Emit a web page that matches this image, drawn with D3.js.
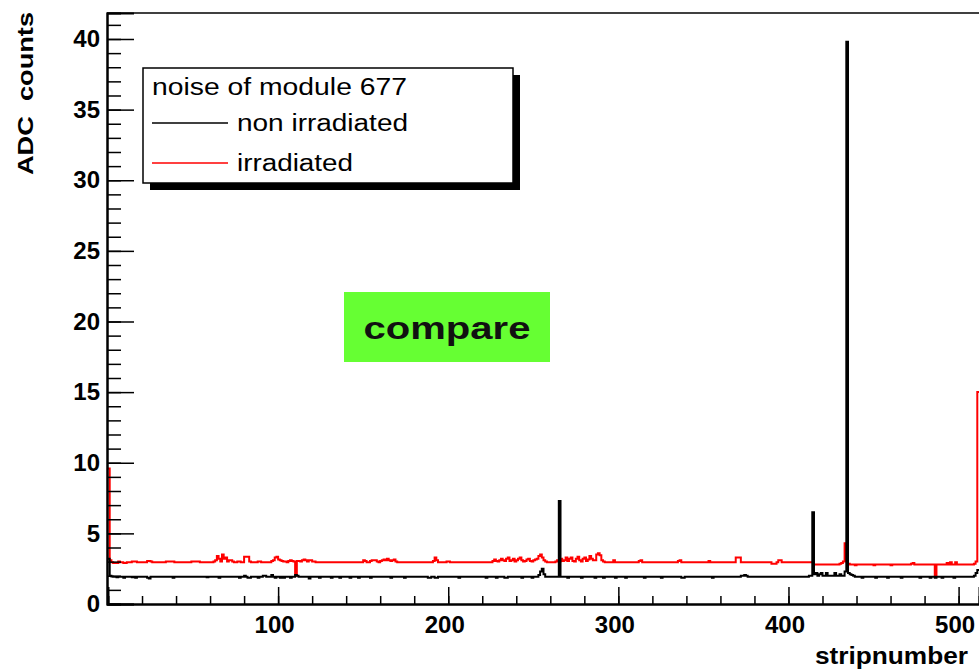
<!DOCTYPE html>
<html>
<head>
<meta charset="utf-8">
<script src="https://cdn.jsdelivr.net/npm/d3@7"></script>
<style>
  body { margin: 0; background: #fff; }
  svg { display: block; font-family: "Liberation Sans", Arial, sans-serif; }
</style>
</head>
<body>
<svg id="chart" width="979" height="671"></svg>
<script>
// noise per strip (ADC counts), strips 1..512
var nonIrradiated = [
  3.2,2.0,1.95,1.93,1.93,1.9,1.93,1.93, 1.93,1.85,1.93,1.93,1.93,1.93,1.9,1.93, 1.85,1.93,1.93,1.93,1.93,1.93,1.93,1.85, 1.8,1.93,1.93,1.93,1.93,1.93,1.93,1.93,
  1.93,1.93,1.93,1.93,1.93,1.93,1.85,1.93, 1.93,1.93,1.93,1.93,1.93,1.93,1.93,1.93, 1.93,1.93,1.93,1.93,1.93,1.93,1.93,1.93, 1.93,1.93,1.9,1.93,1.93,1.93,1.93,1.93,
  1.93,1.85,1.93,1.93,1.93,1.93,1.93,1.93, 1.93,1.93,1.93,1.93,1.93,1.85,1.93,1.93, 2.0,1.93,1.85,1.85,1.93,1.93,1.93,1.93, 1.85,1.93,1.93,2.0,2.0,1.93,1.93,1.93,
  2.05,1.93,1.85,1.93,1.93,1.85,1.93,1.85, 1.93,1.93,1.93,1.85,1.93,1.93,2.05,2.0, 1.93,1.93,1.93,1.93,1.93,1.93,1.8,1.93, 1.93,1.93,1.93,1.93,1.85,1.93,1.93,1.93,
  1.93,1.93,1.93,1.85,1.93,1.93,1.93,1.93, 1.85,1.93,1.93,1.93,1.93,1.93,1.85,1.93, 1.93,1.93,1.93,1.85,1.93,1.93,1.93,1.93, 1.93,1.93,1.85,1.93,1.93,1.93,1.93,1.93,
  1.93,1.93,1.93,1.93,1.93,1.93,1.85,1.93, 1.93,1.93,1.93,1.93,1.93,1.93,1.85,1.93, 1.93,1.93,1.93,1.93,1.93,1.93,1.93,1.93, 1.93,1.93,1.93,1.93,1.85,1.85,1.93,1.93,
  1.85,1.85,1.93,1.93,1.93,1.93,1.93,1.93, 1.93,1.93,1.93,1.93,1.93,1.93,1.85,1.93, 1.93,1.93,1.93,1.93,1.93,1.93,1.93,1.93, 1.93,1.93,1.93,1.93,1.93,1.93,1.85,1.93,
  1.93,1.93,1.93,1.93,1.85,1.93,1.93,1.93, 1.93,1.85,1.85,1.93,1.93,1.93,1.93,1.93, 1.93,1.93,1.93,1.85,1.93,1.93,1.93,1.93, 1.93,1.85,1.93,1.93,1.93,2.05,2.3,2.5,
  2.1,1.93,1.93,1.93,1.93,1.93,1.93,1.93, 1.93,7.3,1.93,1.93,1.93,1.93,1.85,1.93, 1.93,1.93,1.93,1.93,1.93,1.93,1.85,1.93, 1.93,1.93,1.93,1.93,1.93,1.93,1.85,1.93,
  1.93,1.93,1.93,1.85,1.93,1.93,1.93,1.93, 1.93,1.93,1.85,1.93,1.93,1.93,1.93,1.93, 1.85,1.93,1.93,1.93,1.93,1.93,1.93,1.93, 1.93,1.93,1.93,1.85,1.93,1.93,1.93,1.93,
  1.93,1.93,1.93,1.93,1.93,1.85,1.93,1.93, 1.93,1.93,1.93,1.93,1.93,1.93,1.93,1.93, 1.93,1.85,1.85,1.93,1.93,1.93,1.93,1.93, 1.93,1.93,1.93,1.93,1.93,1.93,1.93,1.93,
  1.93,1.93,1.93,1.85,1.93,1.93,1.93,1.93, 1.93,1.93,1.93,1.93,1.93,1.93,1.93,1.93, 1.93,1.93,1.93,1.93,2.0,2.0,2.05,2.0, 1.93,1.93,1.93,1.93,1.93,1.93,1.93,1.93,
  1.93,1.93,1.93,1.93,1.93,1.93,1.93,1.93, 1.93,1.93,1.93,1.93,1.93,1.93,1.93,1.93, 1.93,1.93,1.93,1.93,1.93,1.93,1.93,1.93, 1.93,1.93,1.93,1.93,2.0,2.0,6.5,2.1,
  2.2,2.0,2.1,2.2,2.0,2.0,2.2,2.0, 2.0,2.0,2.0,2.2,2.0,2.0,2.1,2.0, 2.0,2.3,39.8,2.2,2.1,2.05,2.0,1.93, 1.93,1.93,1.93,1.85,1.93,1.93,1.93,1.93,
  1.93,1.93,1.93,1.85,1.93,1.93,1.93,1.93, 1.93,1.93,1.85,1.93,1.93,1.93,1.93,1.93, 1.93,1.93,1.85,1.93,1.93,1.93,1.93,1.93, 1.93,1.93,1.93,1.93,1.93,1.85,1.93,1.93,
  1.93,1.93,1.93,1.85,1.93,1.93,1.85,1.93, 1.93,1.93,1.85,1.93,1.93,1.93,1.93,1.93, 1.93,1.85,1.93,1.93,1.93,1.93,1.93,1.93, 1.93,1.93,1.93,1.93,1.93,2.0,2.2,2.4
];

var irradiated = [
  9.6,3.1,2.95,2.9,2.9,2.9,3.0,2.95, 2.95,2.9,2.9,2.95,2.95,2.95,3.0,3.0, 3.0,2.95,2.95,2.95,2.95,2.95,2.95,3.05, 3.05,3.0,2.95,2.95,2.95,2.95,2.95,2.95,
  2.95,2.95,3.0,3.0,3.0,3.0,3.0,2.95, 2.95,2.95,2.95,2.95,2.95,2.95,2.95,2.95, 2.95,3.0,3.0,3.0,3.0,3.0,2.95,2.95, 2.95,2.95,2.95,2.95,2.95,2.95,3.0,3.1,
  3.4,3.2,3.0,3.5,3.2,3.3,3.0,3.1, 3.1,3.0,2.95,2.95,3.0,3.0,2.95,2.95, 3.35,3.35,3.35,3.0,2.95,2.95,2.95,2.95, 3.0,3.0,2.95,2.95,2.95,2.95,2.95,2.95,
  3.05,3.1,3.3,3.35,3.15,3.1,3.05,3.0, 3.0,2.95,3.05,3.1,3.05,3.0,2.0,3.05, 3.05,3.0,3.1,3.15,3.1,3.0,3.1,3.1, 3.0,3.0,2.95,2.95,2.95,2.95,2.95,2.95,
  2.95,2.95,2.95,2.95,2.95,2.95,2.95,2.95, 2.95,2.95,2.95,2.95,2.95,2.95,2.95,2.95, 2.95,2.95,2.95,2.95,2.95,2.95,3.1,3.05, 2.95,2.95,3.05,3.1,3.1,3.1,3.0,2.95,
  3.05,3.1,3.15,3.1,3.2,3.1,3.05,3.1, 3.15,3.0,2.95,2.95,2.95,2.95,2.95,2.95, 2.95,2.95,2.95,2.95,2.95,2.95,2.95,2.95, 2.95,2.95,2.95,2.95,2.95,2.95,2.95,3.05,
  3.3,3.1,2.95,2.95,2.95,2.95,2.95,3.0, 3.0,2.95,2.95,2.95,2.95,2.95,2.95,2.95, 2.95,2.95,2.95,2.95,2.95,2.95,2.95,2.95, 2.95,2.95,2.95,2.95,2.95,2.95,2.95,2.95,
  2.95,2.95,3.05,3.15,3.05,3.0,3.1,3.2, 3.1,3.05,3.2,3.3,3.05,3.1,3.2,3.0, 3.1,3.2,3.3,3.1,3.0,3.05,3.15,3.2, 3.05,3.0,3.1,3.15,3.2,3.4,3.5,3.3,
  3.1,3.0,2.95,2.95,2.95,2.95,2.95,3.0, 3.1,3.0,3.2,3.05,3.1,3.3,3.05,3.2, 3.3,3.05,3.0,3.2,3.35,3.1,3.0,3.2, 3.3,3.05,3.15,3.4,3.2,3.1,3.1,3.5,
  3.6,3.45,3.1,3.0,2.95,2.95,2.95,2.95, 2.95,3.1,2.95,2.95,2.95,2.95,2.95,2.95, 2.95,2.95,2.95,2.95,2.95,2.95,2.95,2.95, 3.05,3.1,2.95,2.95,2.95,2.95,2.95,2.95,
  2.95,2.95,2.95,2.95,2.95,2.95,2.95,2.95, 2.95,2.95,2.95,2.95,2.95,2.95,2.95,3.05, 3.1,2.95,2.95,2.95,2.95,2.95,2.95,2.95, 2.95,2.95,2.95,2.95,2.95,2.95,2.95,2.95,
  2.95,3.05,2.95,2.95,2.95,2.95,2.95,2.95, 2.95,2.95,2.95,2.95,2.95,2.95,2.95,2.95, 2.95,3.3,3.3,3.3,2.95,2.95,2.95,2.95, 2.95,2.95,2.95,2.95,2.95,2.95,2.95,2.95,
  2.95,2.95,2.95,2.95,2.95,2.95,2.85,2.85, 2.85,2.95,3.1,3.1,2.95,2.95,2.95,2.95, 2.95,2.95,2.95,2.95,2.95,2.95,2.95,2.95, 2.95,2.95,2.95,2.95,2.95,2.95,2.95,2.8,
  2.8,2.8,2.8,2.8,2.8,2.8,2.8,2.8, 2.8,2.8,2.8,2.8,2.8,2.8,2.85,2.9, 3.0,4.3,3.0,2.85,2.8,2.8,2.8,2.75, 2.8,2.8,2.8,2.8,2.8,2.8,2.8,2.8,
  2.8,2.8,2.75,2.8,2.8,2.8,2.8,2.8, 2.8,2.8,2.8,2.8,2.75,2.8,2.8,2.8, 2.8,2.8,2.8,2.8,2.8,2.8,2.8,2.8, 2.85,2.9,2.8,2.8,2.8,2.8,2.8,2.8,
  2.8,2.8,2.8,2.8,2.8,2.8,2.0,2.8, 2.8,2.8,2.8,2.8,2.8,2.9,2.8,2.95, 2.8,2.8,2.95,2.8,2.8,2.8,2.8,2.8, 2.8,2.8,2.8,2.8,2.8,2.85,3.0,15.0
];

var xTicks = [100, 200, 300, 400, 500];
var yTicks = [0, 5, 10, 15, 20, 25, 30, 35, 40];
var legendTitle = "noise of module 677";
var seriesNames = ["non irradiated", "irradiated"];
var seriesColors = ["#000000", "#ff0000"];

var svg = d3.select("#chart");
var padL = 107, padR = 979, padT = 13, padB = 604;

var x = d3.scaleLinear().domain([0, 512]).range([padL + 1, padR]);
var y = d3.scaleLinear().domain([0, 41.84]).range([padB, padT]);

// frame top line
svg.append("line")
  .attr("x1", padL).attr("x2", padR)
  .attr("y1", padT).attr("y2", padT)
  .attr("stroke", "#000").attr("stroke-width", 1.5);

// histograms
var step = d3.line()
  .x(function(d) { return x(d[0]); })
  .y(function(d) { return y(d[1]); })
  .curve(d3.curveStepAfter);

function histPoints(vals) {
  var pts = vals.map(function(v, i) { return [i, v]; });
  pts.push([vals.length, vals[vals.length - 1]]);
  return pts;
}

svg.append("path")
  .attr("d", step(histPoints(irradiated)))
  .attr("fill", "none").attr("stroke", seriesColors[1]).attr("stroke-width", 2);
svg.append("path")
  .attr("d", step(histPoints(nonIrradiated)))
  .attr("fill", "none").attr("stroke", seriesColors[0]).attr("stroke-width", 2);

// y axis
var yMinor = svg.append("g").attr("transform", "translate(" + padL + ",0)")
  .call(d3.axisLeft(y).tickValues(d3.range(0, 42, 1)).tickSize(-14).tickFormat(""));
var yAxis = svg.append("g").attr("transform", "translate(" + padL + ",0)")
  .call(d3.axisLeft(y).tickValues(yTicks).tickSize(-27).tickPadding(7));

// x axis
var xMinor = svg.append("g").attr("transform", "translate(0," + padB + ")")
  .call(d3.axisBottom(x).tickValues(d3.range(20, 512, 20)).tickSize(-8).tickFormat(""));
var xAxis = svg.append("g").attr("transform", "translate(0," + padB + ")")
  .call(d3.axisBottom(x).tickValues(xTicks).tickSize(-17).tickPadding(12));

[yMinor, yAxis, xMinor, xAxis].forEach(function(g) {
  g.select(".domain").attr("stroke", "#000").attr("stroke-width", 2);
  g.selectAll(".tick line").attr("stroke", "#000").attr("stroke-width", 1.5);
});
[yAxis, xAxis].forEach(function(g) {
  g.selectAll(".tick text")
    .attr("fill", "#000")
    .style("font-size", "24px").style("font-weight", "bold")
    .style("font-family", "'Liberation Sans', Arial, sans-serif");
});
xAxis.selectAll(".tick text").attr("dx", -4);

// axis titles
svg.append("text")
  .attr("x", 968).attr("y", 664)
  .attr("text-anchor", "end")
  .attr("textLength", 153).attr("lengthAdjust", "spacingAndGlyphs")
  .style("font-size", "23px").style("font-weight", "bold")
  .text("stripnumber");

svg.append("text")
  .attr("transform", "translate(33,175) rotate(-90)")
  .attr("textLength", 163).attr("lengthAdjust", "spacingAndGlyphs")
  .style("font-size", "22px").style("font-weight", "bold")
  .style("white-space", "pre")
  .text("ADC  counts");

// legend
var lg = svg.append("g");
lg.append("rect").attr("x", 150).attr("y", 75).attr("width", 370).attr("height", 115).attr("fill", "#000");
lg.append("rect").attr("x", 143).attr("y", 68).attr("width", 370).attr("height", 115)
  .attr("fill", "#fff").attr("stroke", "#000").attr("stroke-width", 1.5);
lg.append("text").attr("x", 152).attr("y", 95)
  .attr("textLength", 255).attr("lengthAdjust", "spacingAndGlyphs")
  .style("font-size", "23px").text(legendTitle);

var rowsY = [123, 163];
var rowsW = [171, 116];
seriesNames.forEach(function(name, i) {
  lg.append("line").attr("x1", 152).attr("x2", 228)
    .attr("y1", rowsY[i]).attr("y2", rowsY[i])
    .attr("stroke", seriesColors[i]).attr("stroke-width", 1.5);
  lg.append("text").attr("x", 237).attr("y", rowsY[i] + 8)
    .attr("textLength", rowsW[i]).attr("lengthAdjust", "spacingAndGlyphs")
    .style("font-size", "23px").text(name);
});

// "compare" label
svg.append("rect").attr("x", 344).attr("y", 292).attr("width", 206).attr("height", 70)
  .attr("fill", "#66ff33");
svg.append("text").attr("x", 447).attr("y", 339)
  .attr("text-anchor", "middle")
  .attr("textLength", 167).attr("lengthAdjust", "spacingAndGlyphs")
  .style("font-size", "31px").style("font-weight", "bold").attr("fill", "#111")
  .text("compare");
</script>
</body>
</html>
